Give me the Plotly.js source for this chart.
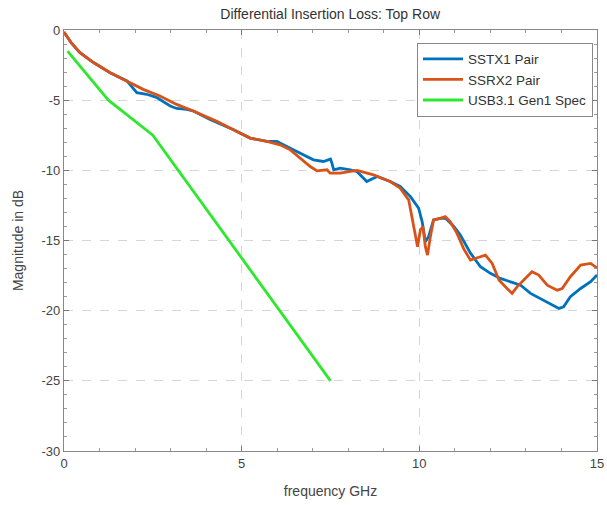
<!DOCTYPE html>
<html>
<head>
<meta charset="utf-8">
<script src="https://cdn.plot.ly/plotly-3.0.1.min.js"></script>
<style>html,body{margin:0;padding:0;background:#fff;}#chart{width:607px;height:505px;}</style>
</head>
<body>
<div id="chart"></div>
<script>
// SSTX1 Pair (blue)
const txFreq = [0, 0.2, 0.45, 0.83, 1.3, 1.77, 2.05, 2.33, 2.6, 2.99, 3.17, 3.45, 3.64, 4.11, 4.77, 5.24, 5.71, 5.99, 6.37, 6.65, 7.02, 7.30, 7.50, 7.54, 7.59, 7.77, 8.06, 8.25, 8.52, 8.81, 9.18, 9.46, 9.75, 9.98, 10.08, 10.17, 10.26, 10.4, 10.59, 10.73, 10.97, 11.15, 11.44, 11.72, 12.0, 12.28, 12.56, 12.85, 13.13, 13.41, 13.69, 13.93, 14.06, 14.25, 14.54, 14.82, 15.0];
const txLoss = [-0.15, -0.9, -1.61, -2.32, -3.04, -3.63, -4.46, -4.58, -4.8, -5.42, -5.59, -5.65, -5.77, -6.37, -7.11, -7.70, -7.94, -7.94, -8.42, -8.77, -9.25, -9.37, -9.2, -9.49, -9.96, -9.85, -9.96, -10.1, -10.8, -10.44, -10.8, -11.15, -11.87, -12.7, -13.66, -15.08, -14.73, -13.54, -13.42, -13.4, -14.0, -14.6, -15.9, -16.87, -17.34, -17.7, -17.94, -18.18, -18.77, -19.13, -19.49, -19.84, -19.73, -19.01, -18.42, -17.94, -17.46];

// SSRX2 Pair (orange)
const rxFreq = [0, 0.2, 0.45, 0.83, 1.3, 1.77, 2.23, 2.7, 3.17, 3.64, 4.11, 4.30, 4.77, 5.24, 5.71, 6.08, 6.37, 6.65, 6.93, 7.12, 7.40, 7.49, 7.77, 8.06, 8.25, 8.71, 9.18, 9.46, 9.70, 9.79, 9.89, 9.95, 10.03, 10.1, 10.17, 10.23, 10.31, 10.4, 10.59, 10.73, 10.87, 11.06, 11.25, 11.44, 11.72, 11.86, 12.05, 12.24, 12.47, 12.61, 12.75, 12.94, 13.17, 13.36, 13.6, 13.88, 14.02, 14.25, 14.54, 14.82, 15.0];
const rxLoss = [-0.15, -0.9, -1.61, -2.32, -3.04, -3.63, -4.23, -4.70, -5.30, -5.77, -6.3, -6.51, -7.11, -7.70, -7.94, -8.18, -8.54, -9.13, -9.73, -10.04, -9.96, -10.2, -10.2, -10.08, -10.01, -10.32, -10.8, -11.27, -12.1, -13.3, -14.73, -15.44, -14.25, -14.0, -15.44, -16.04, -14.73, -13.54, -13.42, -13.3, -13.66, -14.49, -15.6, -16.4, -16.16, -16.04, -16.63, -17.82, -18.42, -18.77, -18.3, -17.82, -17.23, -17.46, -18.18, -18.54, -18.42, -17.58, -16.75, -16.63, -16.95];

// USB3.1 Gen1 Spec (green)
const specFreq = [0.1, 1.25, 2.5, 7.5];
const specLoss = [-1.5, -5, -7.5, -25];

const xTickVals = [0, 5, 10, 15];
const xTickText = ['0', '5', '10', '15'];
const yTickVals = [0, -5, -10, -15, -20, -25, -30];
const yTickText = ['0', '-5', '-10', '-15', '-20', '-25', '-30'];

const traces = [
  {x: txFreq, y: txLoss, name: 'SSTX1 Pair', mode: 'lines', line: {color: '#0072BD', width: 2.8}},
  {x: rxFreq, y: rxLoss, name: 'SSRX2 Pair', mode: 'lines', line: {color: '#D95319', width: 2.8}},
  {x: specFreq, y: specLoss, name: 'USB3.1 Gen1 Spec', mode: 'lines', line: {color: '#2EE82E', width: 2.8}}
];

const axisCommon = {
  showline: true, linecolor: '#888', linewidth: 1.2, mirror: 'ticks',
  ticks: 'inside', ticklen: 5, tickcolor: '#777',
  showgrid: true, gridcolor: '#d6d6d6', griddash: 'dash', gridwidth: 1,
  zeroline: false, tickfont: {family: 'Liberation Sans, Arial, sans-serif', size: 13, color: '#444'},
  minor: {ticks: 'inside', ticklen: 3, tickcolor: '#999', dtick: 1, showgrid: false}
};

const layout = {
  width: 607, height: 505,
  margin: {l: 64, r: 10, t: 30, b: 54},
  paper_bgcolor: '#fff', plot_bgcolor: '#fff',
  font: {family: 'Liberation Sans, Arial, sans-serif', color: '#333'},
  title: {text: 'Differential Insertion Loss: Top Row', font: {size: 14, color: '#333'}, x: 0.544, xanchor: 'center', y: 0.972, yanchor: 'middle'},
  xaxis: Object.assign({}, axisCommon, {
    range: [0, 15], tickmode: 'array', tickvals: xTickVals, ticktext: xTickText,
    title: {text: 'frequency GHz', font: {size: 14, color: '#444'}, standoff: 16}
  }),
  yaxis: Object.assign({}, axisCommon, {
    range: [-30, 0], tickmode: 'array', tickvals: yTickVals, ticktext: yTickText,
    title: {text: 'Magnitude in dB', font: {size: 14, color: '#444'}, standoff: 14}
  }),
  showlegend: true,
  legend: {x: 0.9925, xanchor: 'right', y: 0.97, yanchor: 'top', bgcolor: '#fff', bordercolor: '#888', borderwidth: 1,
    font: {size: 13.5, color: '#333'}, tracegroupgap: 0, itemwidth: 40}
};

Plotly.newPlot('chart', traces, layout, {displayModeBar: false, staticPlot: true});
</script>
</body>
</html>
